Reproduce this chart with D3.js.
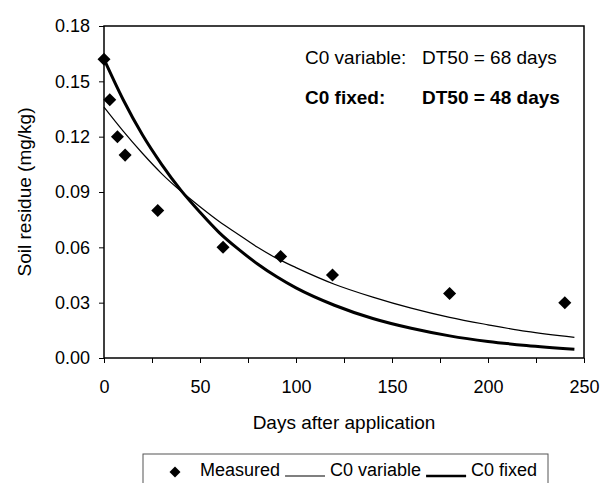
<!DOCTYPE html>
<html>
<head>
<meta charset="utf-8">
<script src="https://cdn.jsdelivr.net/npm/d3@7"></script>
<style>
  body { margin: 0; background: #fff; }
  svg { display: block; font-family: "Liberation Sans", Arial, sans-serif; }
</style>
</head>
<body>
<svg id="chart" width="603" height="483"></svg>
<script>
// measured residues
const measuredDays = [0, 3, 7, 11, 28, 62, 92, 119, 180, 240];
const measuredValues = [0.162, 0.140, 0.120, 0.110, 0.080, 0.060, 0.055, 0.045, 0.035, 0.030];

// fitted curves
const curveDays = [0, 10, 20, 30, 40, 50, 60, 70, 80, 90, 100, 120, 140, 160, 180, 200, 220, 245];
const c0Variable = [0.136, 0.123, 0.111, 0.100, 0.0905, 0.082, 0.074, 0.067, 0.060, 0.054, 0.049, 0.040, 0.033, 0.027, 0.022, 0.018, 0.0144, 0.0112];
const c0Fixed = [0.162, 0.140, 0.121, 0.105, 0.091, 0.079, 0.068, 0.059, 0.051, 0.044, 0.038, 0.0286, 0.0214, 0.0161, 0.012, 0.009, 0.0068, 0.0047];

const xTicks = [0, 25, 50, 75, 100, 125, 150, 175, 200, 225, 250];
const yTicks = [0, 0.03, 0.06, 0.09, 0.12, 0.15, 0.18];

const margin = { top: 26, right: 19, bottom: 125, left: 104 };
const width = 603, height = 483;

const svg = d3.select("#chart");

const x = d3.scaleLinear().domain([0, 250]).range([margin.left, width - margin.right]);
const y = d3.scaleLinear().domain([0, 0.18]).range([height - margin.bottom, margin.top]);

// x axis
const gX = svg.append("g")
  .attr("transform", `translate(0,${y(0)})`)
  .call(d3.axisBottom(x).tickValues(xTicks).tickSize(5).tickSizeOuter(0)
    .tickFormat(d => d % 50 === 0 ? d : ""));
gX.selectAll("text").attr("y", 35).attr("dy", null)
  .style("font-size", "18px").style("fill", "#000");

// y axis
const gY = svg.append("g")
  .attr("transform", `translate(${x(0)},0)`)
  .call(d3.axisLeft(y).tickValues(yTicks).tickSize(5).tickSizeOuter(0).tickFormat(d3.format(".2f")));
gY.selectAll("text").attr("x", -14)
  .style("font-size", "18px").style("fill", "#000");

svg.selectAll(".domain").remove();
svg.selectAll(".tick line").attr("stroke", "#000");

// frame
svg.append("rect")
  .attr("x", x(0)).attr("y", y(0.18))
  .attr("width", x(250) - x(0)).attr("height", y(0) - y(0.18))
  .attr("fill", "none").attr("stroke", "#000").attr("stroke-width", 1.5);

// curves
const line = (vals) => d3.line()
  .x((d, i) => x(curveDays[i]))
  .y(d => y(d))
  .curve(d3.curveMonotoneX)(vals);

svg.append("path").attr("d", line(c0Variable))
  .attr("fill", "none").attr("stroke", "#000").attr("stroke-width", 1.2);
svg.append("path").attr("d", line(c0Fixed))
  .attr("fill", "none").attr("stroke", "#000").attr("stroke-width", 3);

// measured points
const diamond = d3.symbol().type(d3.symbolSquare).size(85);
svg.append("g").selectAll("path")
  .data(measuredDays)
  .join("path")
  .attr("d", diamond)
  .attr("transform", (d, i) => `translate(${x(d)},${y(measuredValues[i])}) rotate(45)`)
  .attr("fill", "#000");

// annotations
svg.append("text").attr("x", 305).attr("y", 64)
  .style("font-size", "19px").text("C0 variable:");
svg.append("text").attr("x", 422).attr("y", 64)
  .style("font-size", "19px").text("DT50 = 68 days");
svg.append("text").attr("x", 305).attr("y", 104)
  .style("font-size", "19px").style("font-weight", "bold").text("C0 fixed:");
svg.append("text").attr("x", 422).attr("y", 104)
  .style("font-size", "19px").style("font-weight", "bold").text("DT50 = 48 days");

// axis titles
svg.append("text")
  .attr("transform", `translate(31,${(y(0) + y(0.18)) / 2}) rotate(-90)`)
  .attr("text-anchor", "middle")
  .style("font-size", "19px").text("Soil residue (mg/kg)");

svg.append("text")
  .attr("x", (x(0) + x(250)) / 2).attr("y", 429)
  .attr("text-anchor", "middle")
  .style("font-size", "19px").text("Days after application");

// legend
const legend = svg.append("g");
legend.append("rect")
  .attr("x", 143).attr("y", 454).attr("width", 405).attr("height", 40)
  .attr("fill", "#fff").attr("stroke", "#555").attr("stroke-width", 1);

const legendY = 476;
legend.append("path")
  .attr("d", d3.symbol().type(d3.symbolSquare).size(60))
  .attr("transform", `translate(175,${legendY - 4}) rotate(45)`)
  .attr("fill", "#000");

let cx = 200;
const addText = (t) => {
  const el = legend.append("text").attr("x", cx).attr("y", legendY)
    .style("font-size", "18px").text(t);
  cx += el.node().getComputedTextLength() + 5;
};
const addLine = (w) => {
  legend.append("line")
    .attr("x1", cx).attr("x2", cx + 40).attr("y1", legendY).attr("y2", legendY)
    .attr("stroke", "#000").attr("stroke-width", w);
  cx += 45;
};
addText("Measured");
addLine(1.2);
addText("C0 variable");
addLine(2.5);
addText("C0 fixed");
</script>
</body>
</html>
